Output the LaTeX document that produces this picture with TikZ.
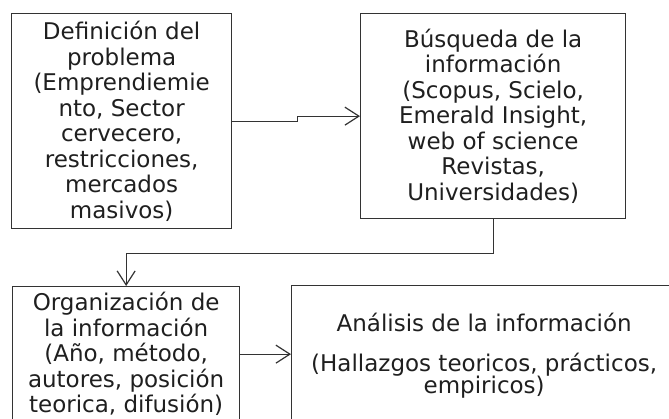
\documentclass[tikz,border=0pt]{standalone}
\usepackage{fontspec}
\setmainfont{DejaVu Sans}
\usetikzlibrary{arrows.meta}
\colorlet{box edge}{black!80}
\colorlet{box text}{black!88}
\tikzset{
  stepbox/.style={draw=box edge, line width=1.3pt, text=box text, align=center,
    anchor=north west, inner sep=0pt, font=\fontsize{23}{25.5}\selectfont},
  edge/.style={draw=box edge, line width=1.2pt,
    -{Straight Barb[length=14pt,width=18pt,line width=1.2pt]}}
}
\begin{document}
\begin{tikzpicture}[x=1pt,y=-1pt]
    \useasboundingbox (0,0) rectangle (669,418);
    \clip (0,0) rectangle (669,418);
    \node[stepbox, minimum width=220pt, minimum height=215pt] (def) at (11,13)
        {Definición del\\problema\\(Emprendiemie\\nto, Sector\\cervecero,\\restricciones,\\mercados\\masivos)};
    \node[stepbox, minimum width=265pt, minimum height=205pt] (busq) at (360,13)
        {Búsqueda de la\\información\\(Scopus, Scielo,\\Emerald Insight,\\web of science\\Revistas,\\Universidades)};
    \node[stepbox, minimum width=227pt, minimum height=135pt] (org) at (12,286)
        {Organización de\\la información\\(Año, método,\\autores, posición\\teorica, difusión)};
    \node[stepbox, minimum width=385pt, minimum height=140pt] (anal) at (291,285)
        {Análisis de la información\\[14.5pt](Hallazgos teoricos, prácticos,\\[-3.5pt]empiricos)};
    \draw[edge] (def.east) -- ++(65,0) |- (busq.west);
    \draw[edge] (busq.south) -- ++(0,34) -| (org.north);
    \draw[edge] (org.east) -- (org.east -| anal.west);
\end{tikzpicture}
\end{document}
